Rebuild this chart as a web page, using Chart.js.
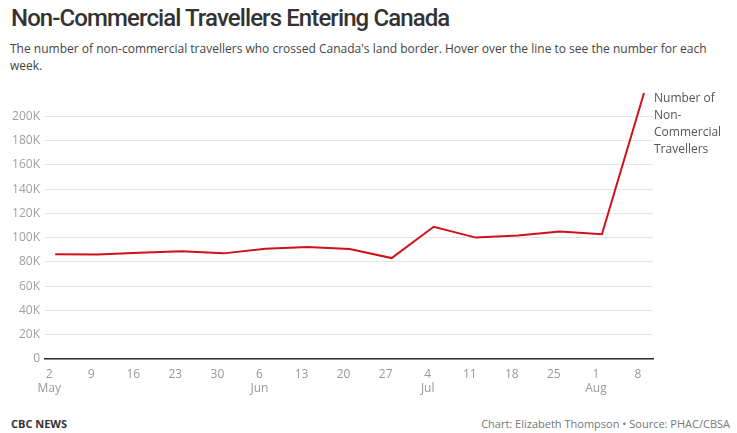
<!DOCTYPE html>
<html>
<head>
<meta charset="utf-8">
<script src="https://cdn.jsdelivr.net/npm/chart.js@4/dist/chart.umd.min.js"></script>
<style>
  html, body { margin: 0; padding: 0; background: #fff; }
  body { width: 737px; height: 433px; position: relative; overflow: hidden; font-family: "Open Sans", sans-serif; }
  #title { position: absolute; left: 11px; top: 4px; font-family: "Roboto", sans-serif; font-size: 24px; font-weight: 500; color: #333; letter-spacing: -0.9px; white-space: nowrap; }
  #sub { position: absolute; left: 10px; top: 40px; width: 712px; font-size: 12px; line-height: 17px; color: #444; }
  #wrap { position: absolute; left: 0; top: 80px; width: 737px; height: 320px; }
  #foot-l { position: absolute; left: 11px; top: 416px; font-size: 11px; font-weight: 700; color: #333; }
  #foot-r { position: absolute; right: 7px; top: 416px; font-size: 11px; color: #777; }
</style>
</head>
<body>
<div id="title">Non-Commercial Travellers Entering Canada</div>
<div id="sub">The number of non-commercial travellers who crossed Canada's land border. Hover over the line to see the number for each week.</div>
<div id="wrap"><canvas id="chart"></canvas></div>
<div id="foot-l">CBC NEWS</div>
<div id="foot-r">Chart: Elizabeth Thompson • Source: PHAC/CBSA</div>
<script>
// weekly totals (week dates)
const weeks = ['2020-05-03', '2020-05-10', '2020-05-17', '2020-05-24', '2020-05-31',
  '2020-06-07', '2020-06-14', '2020-06-21', '2020-06-28', '2020-07-05',
  '2020-07-12', '2020-07-19', '2020-07-26', '2020-08-02', '2020-08-09'];
const travellers = [86300, 86200, 87700, 88800, 87100, 91000, 92400, 90700, 83200,
  109000, 100100, 101800, 105100, 102900, 219400];

// x axis ticks
const tickDates = ['2020-05-02', '2020-05-09', '2020-05-16', '2020-05-23', '2020-05-30',
  '2020-06-06', '2020-06-13', '2020-06-20', '2020-06-27', '2020-07-04',
  '2020-07-11', '2020-07-18', '2020-07-25', '2020-08-01', '2020-08-08'];
const tickLabels = [['2', 'May'], ['9'], ['16'], ['23'], ['30'], ['6', 'Jun'], ['13'], ['20'], ['27'],
  ['4', 'Jul'], ['11'], ['18'], ['25'], ['1', 'Aug'], ['8']];
const yTicks = [0, 20000, 40000, 60000, 80000, 100000, 120000, 140000, 160000, 180000, 200000];

const seriesName = ['Number of', 'Non-', 'Commercial', 'Travellers'];

const start = Date.parse(tickDates[0]);
const dayOf = d => (Date.parse(d) - start) / 86400000;

const endLabel = {
    id: 'endLabel',
    afterDatasetsDraw(chart) {
        const ctx = chart.ctx;
        const area = chart.chartArea;
        ctx.save();
        ctx.font = '12px "Open Sans"';
        ctx.fillStyle = '#555';
        ctx.textBaseline = 'middle';
        seriesName.forEach((t, i) => ctx.fillText(t, area.right + 1, 19 + i * 17));
        ctx.restore();
    }
};

const ctx = document.getElementById('chart').getContext('2d');
const chart = new Chart(ctx, {
    type: 'line',
    data: {
        datasets: [{
            label: 'Number of Non-Commercial Travellers',
            data: weeks.map((w, i) => ({ x: dayOf(w), y: travellers[i] })),
            borderColor: '#d0101b',
            borderWidth: 2,
            pointRadius: 0,
            tension: 0,
            fill: false
        }]
    },
    options: {
        responsive: true,
        maintainAspectRatio: false,
        animation: false,
        layout: { padding: { top: 12, right: 84, left: 0, bottom: 0 } },
        plugins: {
            legend: { display: false },
            tooltip: { enabled: false }
        },
        scales: {
            x: {
                type: 'linear',
                min: -0.7,
                max: 100.5,
                afterBuildTicks: axis => { axis.ticks = tickDates.map(d => ({ value: dayOf(d) })); },
                afterFit: axis => { axis.height = 41; },
                grid: { display: false },
                border: { display: true, color: '#333', width: 1.5 },
                ticks: {
                    color: '#999',
                    font: { family: 'Open Sans', size: 12 },
                    padding: 0,
                    maxRotation: 0,
                    autoSkip: false,
                    callback: (v, i) => tickLabels[i]
                }
            },
            y: {
                min: 0,
                max: 220000,
                afterBuildTicks: axis => { axis.ticks = yTicks.map(v => ({ value: v })); },
                afterFit: axis => { axis.width = 45; },
                grid: { color: '#e6e6e6', lineWidth: 1, drawTicks: false },
                border: { display: false },
                ticks: {
                    color: '#a0a0a0',
                    font: { family: 'Open Sans', size: 12 },
                    padding: 5,
                    callback: v => v === 0 ? '0' : (v / 1000) + 'K'
                }
            }
        }
    },
    plugins: [endLabel]
});
</script>
</body>
</html>
